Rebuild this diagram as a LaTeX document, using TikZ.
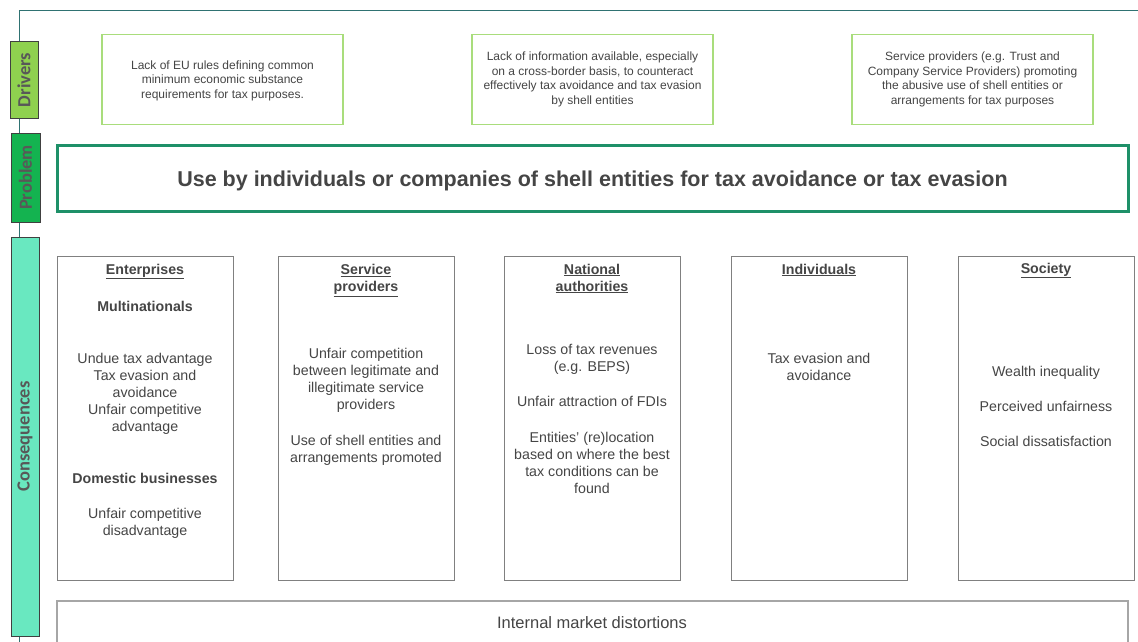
\documentclass[tikz,border=0pt]{standalone}
\usepackage{fontspec}
\setmainfont{Liberation Sans}
\newfontfamily\tabfont{Carlito}
\definecolor{axisc}{HTML}{2F7272}
\definecolor{drvfill}{HTML}{8FD14F}
\definecolor{prbfill}{HTML}{14B350}
\definecolor{conffill}{HTML}{69E8C0}
\definecolor{tabedge}{HTML}{404040}
\definecolor{drvedge}{HTML}{A9DD7C}
\definecolor{prbedge}{HTML}{1E9068}
\definecolor{boxedge}{HTML}{808080}
\definecolor{mktedge}{HTML}{A6A6A6}
\definecolor{txt}{HTML}{454545}
\begin{document}
\begin{tikzpicture}[x=1pt,y=-1pt,
  tabbox/.style={draw=tabedge, line width=1pt},
  tablabel/.style={rotate=90, font=\tabfont\bfseries\fontsize{18.5}{20}\selectfont, text=txt!90!white, inner sep=0pt},
  drvbox/.style={draw=drvedge, line width=1.3pt, minimum width=241pt, minimum height=90pt, align=center, text=txt, font=\fontsize{12}{14.5}\selectfont, inner sep=0pt},
  conbox/.style={draw=boxedge, line width=0.9pt, minimum width=176pt, minimum height=324pt, inner sep=0pt},
  body/.style={align=center, text=txt, font=\fontsize{14.2}{17}\selectfont, inner sep=0pt},
  head/.style={align=center, text=txt, font=\bfseries\fontsize{14.2}{17}\selectfont, inner sep=0pt}
]
\useasboundingbox (0,0) rectangle (1138,642);
\clip (0,0) rectangle (1138,642);
\fill[white] (0,0) rectangle (1138,642);

% axis lines
\coordinate (corner) at (19,10.5);
\coordinate (topend) at (1140,10.5);
\coordinate (botend) at (19,650);
\draw[axisc, line width=1pt] (topend) -- (corner) -- (botend);

% tabs
\node[tabbox, fill=drvfill, minimum width=28pt, minimum height=76pt, inner sep=0pt] (tdrv) at (24,80) {};
\node[tablabel] at (tdrv.center) {Drivers};
\node[tabbox, fill=prbfill, minimum width=29pt, minimum height=89pt, inner sep=0pt] (tprb) at (25.5,177.5) {};
\node[tablabel] at (tprb.center) {Problem};
\node[tabbox, fill=conffill, minimum width=28pt, minimum height=399pt, inner sep=0pt] (tcon) at (25,436.5) {};
\node[tablabel] at (tcon.center) {Consequences};

% drivers
\node[drvbox] (d1) at (222.5,79.5) {};
\node[drvbox, draw=none] (d1t) at (222.5,80.5) {Lack of EU rules defining common\\minimum economic substance\\requirements for tax purposes.};
\node[drvbox] (d2) at (592.5,79.5) {Lack of information available, especially\\on a cross-border basis, to counteract\\effectively tax avoidance and tax evasion\\by shell entities};
\node[drvbox] (d3) at (972.5,79.5) {Service providers (e.g. Trust and\\Company Service Providers) promoting\\the abusive use of shell entities or\\arrangements for tax purposes};

% problem
\node[draw=prbedge, line width=3pt, minimum width=1071pt, minimum height=66pt, inner sep=0pt] (prb) at (592.5,178) {};
\node[text=txt, inner sep=0pt, font=\bfseries\fontsize{21.5}{24}\selectfont] (prbt) at (592.5,180.5) {Use by individuals or companies of shell entities for tax avoidance or tax evasion};

% consequence boxes
\node[conbox] (c1) at (145,418) {};
\node[conbox] (c2) at (366,418) {};
\node[conbox] (c3) at (592,418) {};
\node[conbox] (c4) at (819,418) {};
\node[conbox] (c5) at (1046,418) {};

% box 1
\node[head] (c1h) at (145,271.5) {\underline{Enterprises}};
\node[head] (c1m) at (145,306) {Multinationals};
\node[body] (c1a) at (145,394) {Undue tax advantage\\Tax evasion and\\avoidance\\Unfair competitive\\advantage};
\node[head] (c1d) at (145,478) {Domestic businesses};
\node[body] (c1b) at (145,523) {Unfair competitive\\disadvantage};

% box 2
\node[head] (c2h) at (366,280.5) {\underline{Service}\\\underline{providers}};
\node[body] (c2a) at (366,380) {Unfair competition\\between legitimate and\\illegitimate service\\providers};
\node[body] (c2b) at (366,450) {Use of shell entities and\\arrangements promoted};

% box 3
\node[head] (c3h) at (592,278.5) {\underline{National}\\\underline{authorities}};
\node[body] (c3a) at (592,359.5) {Loss of tax revenues\\(e.g. BEPS)};
\node[body] (c3b) at (592,401) {Unfair attraction of FDIs};
\node[body] (c3c) at (592,463) {Entities' (re)location\\based on where the best\\tax conditions can be\\found};

% box 4
\node[head] (c4h) at (819,270) {\underline{Individuals}};
\node[body] (c4a) at (819,366.5) {Tax evasion and\\avoidance};

% box 5
\node[head] (c5h) at (1046,270.5) {\underline{Society}};
\node[body] (c5a) at (1046,372.5) {Wealth inequality};
\node[body] (c5b) at (1046,406) {Perceived unfairness};
\node[body] (c5c) at (1046,441) {Social dissatisfaction};

% internal market
\node[draw=mktedge, line width=1.5pt, minimum width=1071pt, minimum height=60pt, inner sep=0pt] (mkt) at (592.5,631) {};
\node[text=txt, font=\fontsize{16.5}{19}\selectfont, inner sep=0pt] (mktt) at (592,623) {Internal market distortions};
\end{tikzpicture}
\end{document}
